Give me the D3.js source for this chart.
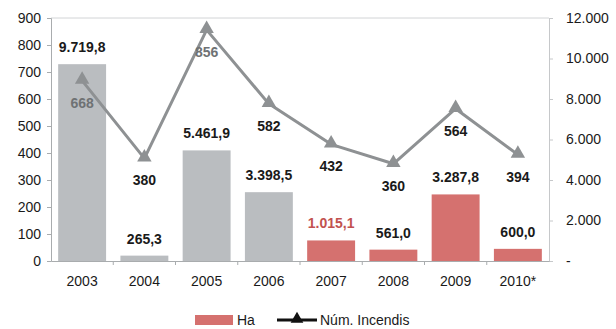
<!DOCTYPE html>
<html>
<head>
<meta charset="utf-8">
<script src="https://cdn.jsdelivr.net/npm/d3@7"></script>
<style>
  body { margin: 0; background: #fff; }
  text { font-family: "Liberation Sans", Arial, sans-serif; }
</style>
</head>
<body>
<div id="chart"></div>
<script>
//
// Ha (bars) + Núm. Incendis (line) combo chart
//

const years = ["2003", "2004", "2005", "2006", "2007", "2008", "2009", "2010*"];
const hectares = [9719.8, 265.3, 5461.9, 3398.5, 1015.1, 561.0, 3287.8, 600.0];
const hectareLabels = ["9.719,8", "265,3", "5.461,9", "3.398,5", "1.015,1", "561,0", "3.287,8", "600,0"];
const incendis = [668, 380, 856, 582, 432, 360, 564, 394];
const leftTicks = [0, 100, 200, 300, 400, 500, 600, 700, 800, 900];
const rightTicks = [0, 2000, 4000, 6000, 8000, 10000, 12000];

const _width = 616;
const _height = 329;
const _left = 51;
const _right = 549;
const _top = 18;
const _bottom = 261;

var _grayBar = "#babdc0";
var _redBar = "#d5716f";
var _lineGray = "#8e9193";

var svg = d3.select("#chart")
    .append("svg")
    .attr("width", _width)
    .attr("height", _height);

var x = d3.scaleBand().domain(years).range([_left, _right]).paddingInner(0.23).paddingOuter(0.115);
var yL = d3.scaleLinear().domain([0, 900]).range([_bottom, _top]);
var yR = d3.scaleLinear().domain([0, 12000]).range([_bottom, _top]);

function fmtThousands(v) {
    if (v == 0) return "-";
    return d3.format(",")(v).replace(/,/g, ".");
}

// frame: top border line
svg.append("line")
    .attr("x1", _left).attr("x2", _right)
    .attr("y1", _top).attr("y2", _top)
    .attr("stroke", "#d2d4d6").attr("stroke-width", 1);

// left axis
var leftAxis = svg.append("g")
    .attr("transform", "translate(" + _left + ",0)")
    .call(d3.axisLeft(yL).tickValues(leftTicks).tickSize(4).tickPadding(6));
leftAxis.select(".domain").attr("stroke", "#a9acae");
leftAxis.selectAll(".tick line").attr("stroke", "#a9acae");
leftAxis.selectAll("text").attr("font-size", "14px").attr("fill", "#1a1a1a");

// right axis
var rightAxis = svg.append("g")
    .attr("transform", "translate(" + _right + ",0)")
    .call(d3.axisRight(yR).tickValues(rightTicks).tickSize(4).tickPadding(13).tickFormat(fmtThousands));
rightAxis.select(".domain").attr("stroke", "#c6c8ca");
rightAxis.selectAll(".tick line").attr("stroke", "#c6c8ca");
rightAxis.selectAll("text").attr("font-size", "14px").attr("fill", "#1a1a1a");

// bottom axis
var bottomAxis = svg.append("g")
    .attr("transform", "translate(0," + _bottom + ")")
    .call(d3.axisBottom(x).tickSize(0).tickPadding(15));
bottomAxis.select(".domain").attr("stroke", "#a9acae");
bottomAxis.selectAll("text").attr("font-size", "14px").attr("fill", "#1a1a1a");

// small ticks between categories
svg.append("g")
    .selectAll("line")
    .data(years.slice(1))
    .join("line")
    .attr("x1", d => x(d) - x.step() * x.paddingInner() / 2)
    .attr("x2", d => x(d) - x.step() * x.paddingInner() / 2)
    .attr("y1", _bottom)
    .attr("y2", _bottom + 4)
    .attr("stroke", "#a9acae");

// bars
svg.append("g")
    .selectAll("rect")
    .data(years)
    .join("rect")
    .attr("x", d => x(d))
    .attr("width", x.bandwidth())
    .attr("y", (d, i) => yR(hectares[i]))
    .attr("height", (d, i) => _bottom - yR(hectares[i]))
    .attr("fill", (d, i) => i < 4 ? _grayBar : _redBar);

// bar labels
svg.append("g")
    .selectAll("text")
    .data(years)
    .join("text")
    .attr("x", d => x(d) + x.bandwidth() / 2)
    .attr("y", (d, i) => yR(hectares[i]) - 12)
    .attr("text-anchor", "middle")
    .attr("font-size", "14px")
    .attr("font-weight", "bold")
    .attr("fill", (d, i) => i == 4 ? "#c2524f" : "#1a1a1a")
    .text((d, i) => hectareLabels[i]);

// line
var line = d3.line()
    .x((d, i) => x(years[i]) + x.bandwidth() / 2)
    .y(d => yL(d));

svg.append("path")
    .datum(incendis)
    .attr("fill", "none")
    .attr("stroke", _lineGray)
    .attr("stroke-width", 3)
    .attr("stroke-linejoin", "round")
    .attr("d", line);

var tri = d3.symbol().type(d3.symbolTriangle).size(90);
svg.append("g")
    .selectAll("path")
    .data(incendis)
    .join("path")
    .attr("transform", (d, i) => "translate(" + (x(years[i]) + x.bandwidth() / 2) + "," + (yL(d) - 1) + ")")
    .attr("d", tri)
    .attr("fill", _lineGray);

// line labels
svg.append("g")
    .selectAll("text")
    .data(incendis)
    .join("text")
    .attr("x", (d, i) => x(years[i]) + x.bandwidth() / 2)
    .attr("y", d => yL(d) + 27)
    .attr("text-anchor", "middle")
    .attr("font-size", "14px")
    .attr("font-weight", "bold")
    .attr("fill", (d, i) => (i == 0 || i == 2) ? "#6f7274" : "#1a1a1a")
    .text(d => d);

// legend
var legend = svg.append("g").attr("transform", "translate(195,320)");
legend.append("rect")
    .attr("x", 0).attr("y", -5)
    .attr("width", 38).attr("height", 10)
    .attr("fill", _redBar);
legend.append("text")
    .attr("x", 42).attr("y", 5)
    .attr("font-size", "14px")
    .attr("fill", "#1a1a1a")
    .text("Ha");
legend.append("line")
    .attr("x1", 82).attr("x2", 122)
    .attr("y1", 0).attr("y2", 0)
    .attr("stroke", "#111").attr("stroke-width", 3);
legend.append("path")
    .attr("transform", "translate(102,-1)")
    .attr("d", d3.symbol().type(d3.symbolTriangle).size(70))
    .attr("fill", "#111");
legend.append("text")
    .attr("x", 125).attr("y", 5)
    .attr("font-size", "14px")
    .attr("fill", "#1a1a1a")
    .text("Núm. Incendis");
</script>
</body>
</html>
